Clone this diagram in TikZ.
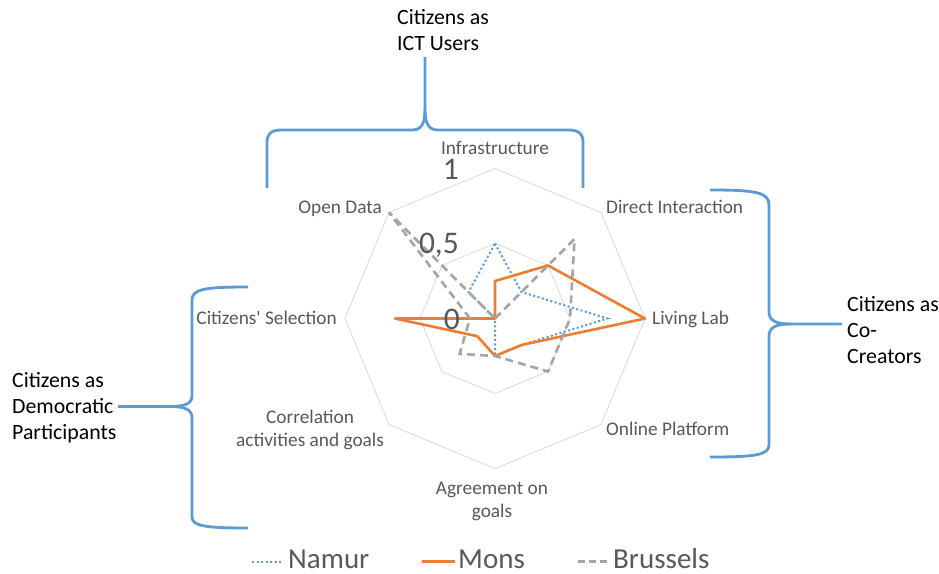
\documentclass[tikz,border=0pt]{standalone}
\usepackage{fontspec}
\setmainfont{Carlito}
\definecolor{bracecol}{HTML}{5B9BD5}
\definecolor{namurblue}{HTML}{5B9BD5}
\definecolor{monsorange}{HTML}{ED7D31}
\definecolor{bruxgrey}{HTML}{A5A5A5}
\definecolor{labelgrey}{HTML}{595959}
\definecolor{gridgrey}{HTML}{D9D9D9}
\begin{document}
\begin{tikzpicture}[x=1pt,y=-1pt,
  lbl/.style={text=labelgrey, font=\fontsize{19.3}{22.5}\selectfont, inner sep=0},
  ttl/.style={text=black, font=\fontsize{21.8}{25.8}\selectfont, inner sep=0, align=left},
  tick/.style={text=labelgrey, font=\fontsize{31.5}{33}\selectfont, inner sep=0, text height=20pt, text depth=0pt},
  leg/.style={text=labelgrey, font=\fontsize{29}{31}\selectfont, inner sep=0, text depth=0pt},
  brc/.style={draw=bracecol, line width=2.8pt},
  gridline/.style={draw=gridgrey, line width=0.8pt},
  namur/.style={draw=namurblue, line width=2pt, dash pattern=on 2pt off 2.5pt},
  mons/.style={draw=monsorange, line width=2.6pt, line join=round},
  bru/.style={draw=bruxgrey, line width=2.6pt, dash pattern=on 8pt off 5pt},
]
\useasboundingbox (0,0) rectangle (939,573);
\fill[white] (0,0) rectangle (939,573);

% ---- radar chart ----
\begin{scope}[shift={(495,318.5)}, x=1pt, y=1pt]
  \coordinate (c) at (0,0);
  \draw[gridline] (90:150) -- (45:150) -- (0:150) -- (-45:150) -- (-90:150) -- (-135:150) -- (180:150) -- (135:150) -- cycle;
  \draw[gridline] (90:75) -- (45:75) -- (0:75) -- (-45:75) -- (-90:75) -- (-135:75) -- (180:75) -- (135:75) -- cycle;
  % Namur
  \draw[namur] (90:75) -- (45:37.5) -- (0:112.5) -- (-45:37.5) -- (-90:37.5) -- (-135:0) -- (180:0) -- (135:37.5) -- cycle;
  % Mons
  \draw[mons] (90:37.5) -- (45:75) -- (0:150) -- (-45:37.5) -- (-90:37.5) -- (-135:25) -- (180:100) -- (135:0) -- cycle;
  % Brussels
  \draw[bru] (90:0) -- (45:112.5) -- (0:75) -- (-45:75) -- (-90:37.5) -- (-135:50) -- (180:25) -- (135:150) -- cycle;
\end{scope}

% axis ticks
\node[tick, anchor=base east] (t1) at (459,179) {1};
\node[tick, anchor=base east] (t05) at (459,253) {0,5};
\node[tick, anchor=base east] (t0) at (460,329) {0};

% category labels
\node[lbl, anchor=base] (infra) at (495,154) {Infrastructure};
\node[lbl, anchor=base west] (direct) at (606,213) {Direct Interaction};
\node[lbl, anchor=base west] (living) at (652,324) {Living Lab};
\node[lbl, anchor=base west] (online) at (606,435) {Online Platform};
\node[lbl, anchor=base, align=center] (agree) at (492,517) {Agreement on\\goals};
\node[lbl, anchor=base, align=center] (corr) at (310,446) {Correlation\\activities and goals};
\node[lbl, anchor=base east] (select) at (337,324) {Citizens\textquotesingle\ Selection};
\node[lbl, anchor=base east] (open) at (382,213) {Open Data};

% group titles
\node[ttl, anchor=base west] (ict) at (397,50) {Citizens as\\ICT Users};
\node[ttl, anchor=base west] (cocreate) at (847,363.5) {Citizens as\\Co-\\Creators};
\node[ttl, anchor=base west] (demo) at (12,439) {Citizens as\\Democratic\\Participants};

% top bracket
\coordinate (ictTip) at (425,57);
\draw[brc] (267,188) -- (267,142) .. controls (267,133) and (272,130) .. (282,130) -- (412,130) .. controls (421,130) and (425,124) .. (425,110) -- (ictTip);
\draw[brc] (425,110) .. controls (425,124) and (429,130) .. (438,130) -- (568,130) .. controls (578,130) and (583,133) .. (583,142) -- (583,188);

% right bracket
\coordinate (coTip) at (842,324);
\draw[brc] (710,190) .. controls (755,190) and (769,192) .. (769,205) -- (769,312) .. controls (769,320) and (775,324) .. (790,324) -- (coTip);
\draw[brc] (790,324) .. controls (775,324) and (769,328) .. (769,336) -- (769,445) .. controls (769,455) and (755,457) .. (710,457);

% left bracket
\coordinate (demoTip) at (118,406.5);
\draw[brc] (248,287) .. controls (205,287) and (192,289) .. (192,300) -- (192,396) .. controls (192,403) and (186,406.5) .. (170,406.5) -- (demoTip);
\draw[brc] (170,406.5) .. controls (186,406.5) and (192,410) .. (192,418) -- (192,517) .. controls (192,526) and (205,528) .. (248,528);

% legend
\coordinate (lnA) at (252,561.5); \coordinate (lnB) at (282,561.5);
\coordinate (lmA) at (422,561.5); \coordinate (lmB) at (455,561.5);
\coordinate (lbA) at (578,561.5); \coordinate (lbB) at (608,561.5);
\draw[namur] (lnA) -- (lnB);
\draw[mons] (lmA) -- (lmB);
\draw[bru, dash pattern=on 7pt off 4pt] (lbA) -- (lbB);
\node[leg, anchor=base west] (lgn) at (288,568) {Namur};
\node[leg, anchor=base west] (lgm) at (458,568) {Mons};
\node[leg, anchor=base west] (lgb) at (613,568) {Brussels};
\end{tikzpicture}
\end{document}
